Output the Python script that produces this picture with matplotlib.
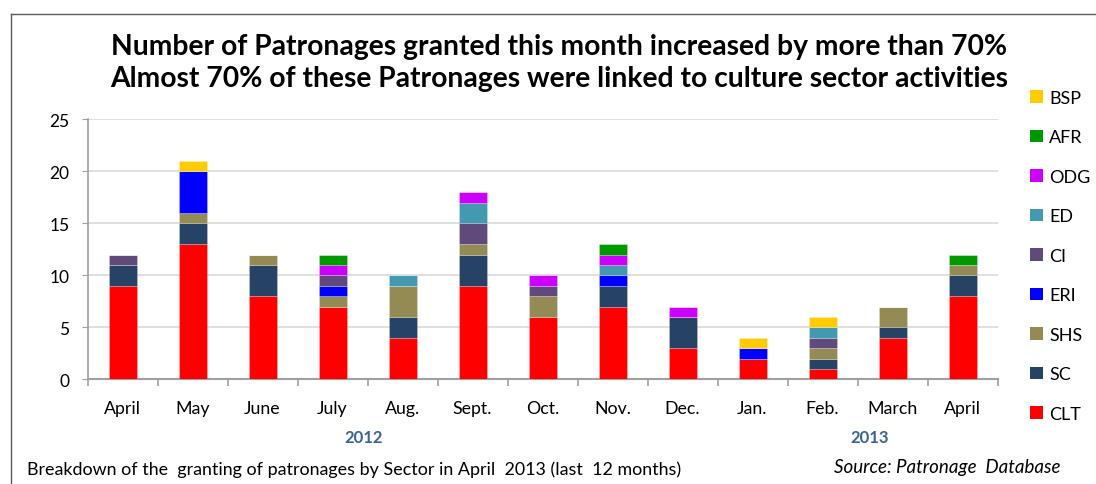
import matplotlib
matplotlib.use("Agg")
import matplotlib.pyplot as plt
import numpy as np
from matplotlib.patches import Patch
from matplotlib.lines import Line2D

months = ["April", "May", "June", "July", "Aug.", "Sept.", "Oct.", "Nov.",
          "Dec.", "Jan.", "Feb.", "March", "April"]
CLT = [9, 13, 8, 7, 4, 9, 6, 7, 3, 2, 1, 4, 8]
SC  = [2, 2, 3, 0, 2, 3, 0, 2, 3, 0, 1, 1, 2]
SHS = [0, 1, 1, 1, 3, 1, 2, 0, 0, 0, 1, 2, 1]
ERI = [0, 4, 0, 1, 0, 0, 0, 1, 0, 1, 0, 0, 0]
CI  = [1, 0, 0, 1, 0, 2, 1, 0, 0, 0, 1, 0, 0]
ED  = [0, 0, 0, 0, 1, 2, 0, 1, 0, 0, 1, 0, 0]
ODG = [0, 0, 0, 1, 0, 1, 1, 1, 1, 0, 0, 0, 0]
AFR = [0, 0, 0, 1, 0, 0, 0, 1, 0, 0, 0, 0, 1]
BSP = [0, 1, 0, 0, 0, 0, 0, 0, 0, 1, 1, 0, 0]
series_names = ["CLT", "SC", "SHS", "ERI", "CI", "ED", "ODG", "AFR", "BSP"]
series_values = [CLT, SC, SHS, ERI, CI, ED, ODG, AFR, BSP]
colors = ["#FF0000", "#264264", "#948A54", "#0000FF", "#604A7B",
          "#4299B0", "#CC00FF", "#009900", "#FFCC00"]
years = ["2012", "2013"]
title = ("Number of Patronages granted this month increased by more than 70%\n"
         "Almost 70% of these Patronages were linked to culture sector activities")
footer = "Breakdown of the  granting of patronages by Sector in April  2013 (last  12 months)"
source = "Source: Patronage  Database"

plt.rcParams['font.family'] = ['Lato', 'DejaVu Sans']

W, H = 1096, 485
fig = plt.figure(figsize=(W / 100, H / 100), dpi=100)

# frame (top and left border)
fig.add_artist(Line2D([11 / W, 11 / W], [0, 1 - 15 / H], transform=fig.transFigure,
                      color="#595959", lw=1.0))
fig.add_artist(Line2D([11 / W, 1], [1 - 15 / H, 1 - 15 / H], transform=fig.transFigure,
                      color="#595959", lw=1.0))

ax = fig.add_axes([87.5 / W, (H - 380.3) / H, 910 / W, 260 / H])
x = np.arange(len(months))
bottom = np.zeros(len(months))
for name, vals, c in zip(series_names, series_values, colors):
    v = np.array(vals, dtype=float)
    ax.bar(x, v, 0.4, bottom=bottom, color=c, label=name, zorder=3,
           edgecolor=(1, 1, 1, 0.25), linewidth=0.6)
    bottom += v

ax.set_xlim(-0.5, len(months) - 0.5)
ax.set_ylim(0, 25)
ax.set_yticks([0, 5, 10, 15, 20, 25])
ax.yaxis.grid(True, color="#D9D9D9", lw=1.2, zorder=0)
ax.set_axisbelow(True)
for s in ["top", "right"]:
    ax.spines[s].set_visible(False)
ax.spines["left"].set_color("#A0A0A0")
ax.spines["bottom"].set_color("#A0A0A0")
ax.spines["bottom"].set_linewidth(1.5)
ax.spines["left"].set_linewidth(1.2)
ax.tick_params(axis="y", length=4, color="#A0A0A0", labelsize=12.5, pad=9)
ax.set_xticks(x)
ax.set_xticklabels(months, fontsize=12.8)
ax.tick_params(axis="x", length=0, pad=15)
ax.set_xticks(np.arange(len(months) + 1) - 0.5, minor=True)
ax.tick_params(axis="x", which="minor", length=5, color="#A0A0A0", width=1.2)

# year labels
ax.text(3.45, -0.222, years[0], transform=ax.get_xaxis_transform(), ha="center",
        va="center", fontsize=12, fontweight="bold", color="#3B6396")
ax.text(10.68, -0.222, years[1], transform=ax.get_xaxis_transform(), ha="center",
        va="center", fontsize=12, fontweight="bold", color="#3B6396")

fig.text(559 / W, 1 - 63 / H, title, ha="center", va="center", fontsize=20.3,
         fontweight="bold", linespacing=1.3)
fig.text(27 / W, 1 - 470 / H, footer, ha="left", va="center", fontsize=12.9)
fig.text(1060 / W, 1 - 468 / H, source, ha="right", va="center", fontsize=13.5,
         style="italic")

handles = [Patch(facecolor=c, edgecolor="none") for c in colors]
leg = fig.legend(handles[::-1], series_names[::-1], loc="upper left",
                 bbox_to_anchor=(1030 / W, 1 - 91 / H), frameon=False,
                 fontsize=13, handlelength=0.7, handleheight=0.7,
                 handletextpad=0.35, labelspacing=1.3, borderpad=0, borderaxespad=0)

fig.savefig("out.png", dpi=100)
